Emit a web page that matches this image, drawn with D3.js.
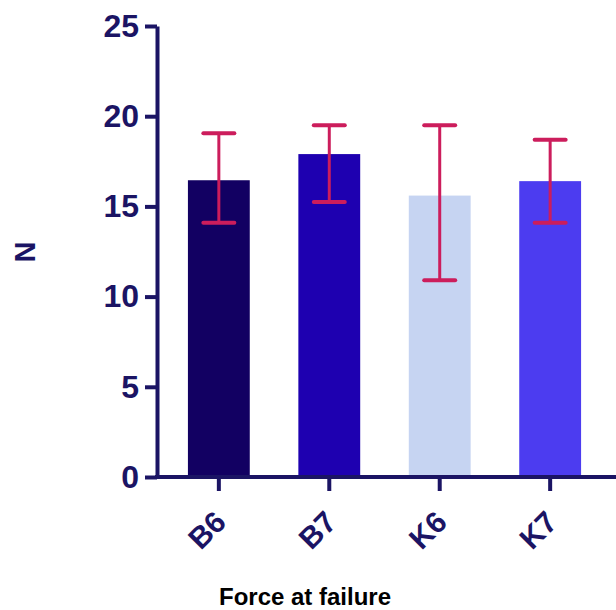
<!DOCTYPE html>
<html>
<head>
<meta charset="utf-8">
<script src="https://cdn.jsdelivr.net/npm/d3@7"></script>
<style>
  html, body { margin: 0; padding: 0; background: #fff; }
  svg { display: block; }
  text { font-family: "Liberation Sans", Arial, sans-serif; font-weight: bold; }
</style>
</head>
<body>
<svg id="chart" width="616" height="610"></svg>
<script>
// data
const groups = ['B6', 'B7', 'K6', 'K7'];
const means = [16.45, 17.9, 15.6, 16.4];
const errLow = [14.1, 15.25, 10.9, 14.1];
const errHigh = [19.05, 19.5, 19.5, 18.7];
const barColors = ['#120062', '#1e00b0', '#c6d4f2', '#4c3cf0'];
const yTicks = [0, 5, 10, 15, 20, 25];

const navy = '#1b1464';
const errColor = '#cc1d5c';

const svg = d3.select('#chart');

const y = d3.scaleLinear().domain([0, 25]).range([477, 26]);
const x = d3.scaleBand().domain(groups).range([157, 612])
  .paddingInner(0.44).paddingOuter(0.28);

// bars
svg.append('g').selectAll('rect')
  .data(groups)
  .enter()
  .append('rect')
  .attr('x', d => x(d))
  .attr('width', x.bandwidth())
  .attr('y', (d, i) => y(means[i]))
  .attr('height', (d, i) => y(0) - y(means[i]))
  .attr('fill', (d, i) => barColors[i]);

// error bars
const eb = svg.append('g').attr('class', 'errors');
groups.forEach((g, i) => {
  const cx = x(g) + x.bandwidth() / 2;
  eb.append('line')
    .attr('x1', cx).attr('x2', cx)
    .attr('y1', y(errHigh[i])).attr('y2', y(errLow[i]))
    .attr('stroke', errColor).attr('stroke-width', 3);
  [errHigh[i], errLow[i]].forEach(v => {
    eb.append('line')
      .attr('x1', cx - 15.5).attr('x2', cx + 15.5)
      .attr('y1', y(v)).attr('y2', y(v))
      .attr('stroke', errColor).attr('stroke-width', 4)
      .attr('stroke-linecap', 'round');
  });
});

// y axis
const yAxis = svg.append('g')
  .attr('transform', 'translate(157,0)')
  .call(d3.axisLeft(y).tickValues(yTicks).tickSize(12).tickSizeOuter(0).tickPadding(6));
yAxis.select('.domain').attr('stroke', navy).attr('stroke-width', 4);
yAxis.selectAll('.tick line').attr('stroke', navy).attr('stroke-width', 4);
yAxis.selectAll('.tick text')
  .attr('fill', navy)
  .style('font-size', '32px')
  .style('font-family', '"Liberation Sans", Arial, sans-serif')
  .style('font-weight', 'bold');

// x axis
const xAxis = svg.append('g')
  .attr('transform', 'translate(0,477)')
  .call(d3.axisBottom(x).tickSize(14).tickSizeOuter(0));
xAxis.select('.domain').remove();
xAxis.append('line')
  .attr('x1', 155).attr('x2', 616)
  .attr('stroke', navy).attr('stroke-width', 4);
xAxis.selectAll('.tick line').attr('stroke', navy).attr('stroke-width', 4);
xAxis.selectAll('.tick text')
  .attr('fill', navy)
  .attr('text-anchor', 'end')
  .attr('dy', null)
  .attr('y', null)
  .attr('transform', 'translate(9,47) rotate(-45)')
  .style('font-size', '30px')
  .style('font-family', '"Liberation Sans", Arial, sans-serif')
  .style('font-weight', 'bold');

// axis titles
svg.append('text')
  .attr('transform', 'translate(35,252) rotate(-90)')
  .attr('text-anchor', 'middle')
  .attr('fill', navy)
  .style('font-size', '29px')
  .text('N');

svg.append('text')
  .attr('x', 305)
  .attr('y', 605)
  .attr('text-anchor', 'middle')
  .attr('fill', '#000')
  .style('font-size', '24px')
  .text('Force at failure');
</script>
</body>
</html>
